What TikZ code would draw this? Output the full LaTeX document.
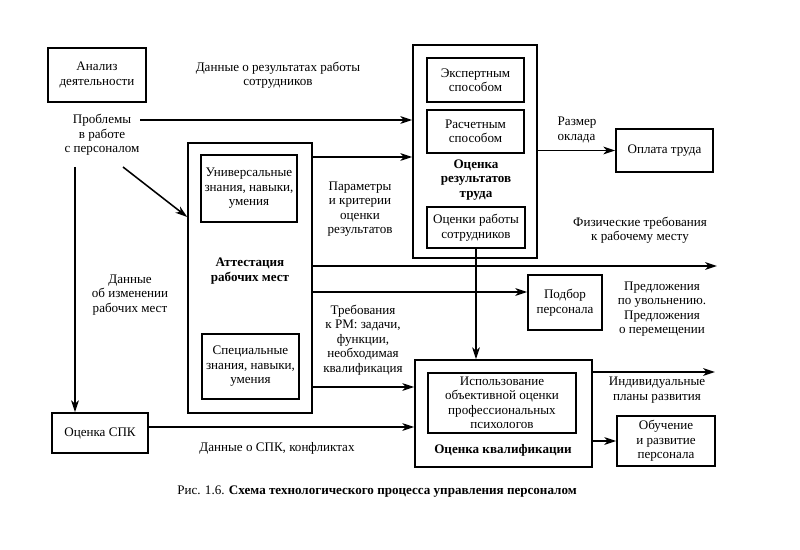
\documentclass[tikz,border=0pt]{standalone}
\usepackage{fontspec}
\setmainfont{Liberation Serif}
\usetikzlibrary{arrows}
\usetikzlibrary{arrows.meta}

\tikzset{
  box/.style={draw, line width=1.1pt, inner sep=2pt, align=center},
  lbl/.style={align=center, inner sep=1pt},
  ttl/.style={align=center, inner sep=1pt, font=\fontsize{9.3}{10.3}\selectfont\bfseries},
  flow/.style={-{Stealth[length=8.5pt,width=5.5pt,inset=2.5pt]}, line width=1.1pt},
}

\begin{document}
\begin{tikzpicture}[x=0.025cm, y=-0.025cm, font=\fontsize{9.3}{10.3}\selectfont]
        \useasboundingbox (0,0) rectangle (800,550);

        % boxes
        \node[box, minimum width=2.45cm, minimum height=1.35cm] (analiz) at (97,75) {Анализ\\деятельности};
        \node[box, minimum width=2.4cm, minimum height=1.0cm] (ocspk) at (100,433) {Оценка СПК};
        \node[box, minimum width=3.1cm, minimum height=6.75cm] (attest) at (250,278) {};
        \node[box, minimum width=2.4cm, minimum height=1.675cm] (univ) at (249,188.5) {Универсальные\\знания, навыки,\\умения};
        \node[box, minimum width=2.425cm, minimum height=1.625cm] (spec) at (250.5,366.5) {Специальные\\знания, навыки,\\умения};
        \node[box, minimum width=3.1cm, minimum height=5.325cm] (ocres) at (475,151.5) {};
        \node[box, minimum width=2.425cm, minimum height=1.1cm] (expert) at (475.5,80) {Экспертным\\способом};
        \node[box, minimum width=2.425cm, minimum height=1.075cm] (raschet) at (475.5,131.5) {Расчетным\\способом};
        \node[box, minimum width=2.45cm, minimum height=1.025cm] (ocrab) at (476,227.5) {Оценки работы\\сотрудников};
        \node[box, minimum width=2.425cm, minimum height=1.075cm] (oplata) at (664.5,150.5) {Оплата труда};
        \node[box, minimum width=1.85cm, minimum height=1.375cm] (podbor) at (565,302.5) {Подбор\\персонала};
        \node[box, minimum width=4.425cm, minimum height=2.675cm] (ocqual) at (503.5,413.5) {};
        \node[box, minimum width=3.7cm, minimum height=1.5cm] (ispolz) at (502,403) {Использование\\объективной оценки\\профессиональных\\психологов};
        \node[box, minimum width=2.45cm, minimum height=1.25cm] (obuch) at (666,441) {Обучение\\и развитие\\персонала};

        % titles inside the big boxes
        \node[ttl] (attestT) at (250,271) {Аттестация\\рабочих мест};
        \node[ttl] (ocresT) at (476,180) {Оценка\\результатов\\труда};
        \node[ttl] (ocqualT) at (503,450) {Оценка квалификации};

        % labels
        \node[lbl] (dannRes) at (278,75) {Данные о результатах работы\\сотрудников};
        \node[lbl] (probl) at (102,135) {Проблемы\\в работе\\с персоналом};
        \node[lbl] (param) at (360,209) {Параметры\\и критерии\\оценки\\результатов};
        \node[lbl] (dannIzm) at (130,295) {Данные\\об изменении\\рабочих мест};
        \node[lbl] (treb) at (363,340) {Требования\\к РМ: задачи,\\функции,\\необходимая\\квалификация};
        \node[lbl] (dannSpk) at (277,448) {Данные о СПК, конфликтах};
        \node[lbl, align=left, anchor=west] (razmer) at (556,130) {Размер\\оклада};
        \node[lbl] (fiz) at (640,230) {Физические требования\\к рабочему месту};
        \node[lbl] (predl) at (662,309) {Предложения\\по увольнению.\\Предложения\\о перемещении};
        \node[lbl] (indiv) at (657,390) {Индивидуальные\\планы развития};
        \node[lbl] (caption) at (377,492) {Рис. 1.6. \textbf{Схема технологического процесса управления персоналом}};

        % levels and free ends of the connectors
        \coordinate (lvProb) at (140,120);
        \coordinate (lvPar) at (0,157);
        \coordinate (lvPhys) at (717,266);
        \coordinate (lvPodb) at (0,292);
        \coordinate (lvTreb) at (0,387);
        \coordinate (lvSpk) at (0,427);
        \coordinate (lvInd) at (715,372);
        \coordinate (dgStart) at (123,167);
        \coordinate (dgEnd) at (0,217);
        \coordinate (vStart) at (75,167);

        \draw[flow] (lvProb) -- (lvProb -| ocres.west);
        \draw[flow] (attest.east |- lvPar) -- (ocres.west |- lvPar);
        \draw[flow] (dgStart) -- (attest.west |- dgEnd);
        \draw[flow] (vStart) -- (vStart |- ocspk.north);
        \draw[flow] (attest.east |- lvPhys) -- (lvPhys);
        \draw[flow] (attest.east |- lvPodb) -- (podbor.west |- lvPodb);
        \draw[flow] (attest.east |- lvTreb) -- (ocqual.west |- lvTreb);
        \draw[flow] (ocspk.east |- lvSpk) -- (ocqual.west |- lvSpk);
        \draw[flow] (ocrab.south) -- (ocrab.south |- ocqual.north);
        \draw[flow] (ocres.east |- oplata.west) -- (oplata.west);
        \draw[flow] (ocqual.east |- lvInd) -- (lvInd);
        \draw[flow] (ocqual.east |- obuch.west) -- (obuch.west);
    \end{tikzpicture}
\end{document}
